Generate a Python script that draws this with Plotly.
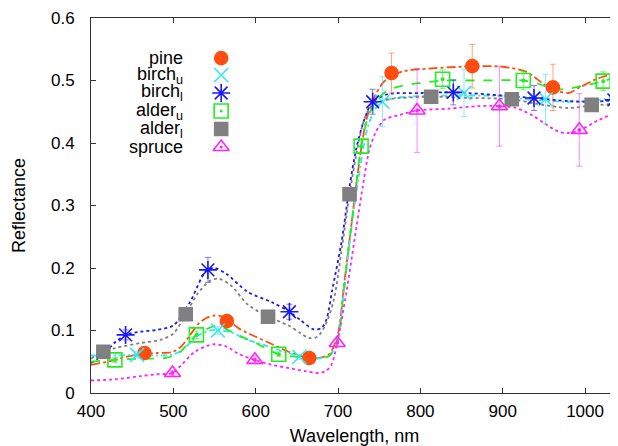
import plotly.graph_objects as go

# ---------------- data ----------------
series_names = ["pine", "birch<sub>u</sub>", "birch<sub>l</sub>",
                "alder<sub>u</sub>", "alder<sub>l</sub>", "spruce"]

# continuous spectra
pine_wl = [400, 420, 440, 460, 480, 500, 510, 520, 530, 540, 550, 560, 570, 580, 600, 620, 640, 660, 670, 680, 690,
           700, 707, 714, 720, 728, 735, 745, 755, 765, 780, 800, 850, 900, 930, 950, 965, 980, 995, 1015, 1040]
pine_r = [0.045, 0.050, 0.057, 0.062, 0.064, 0.066, 0.075, 0.092, 0.110, 0.120, 0.124, 0.122, 0.113, 0.103, 0.090,
          0.078, 0.066, 0.057, 0.055, 0.057, 0.063, 0.095, 0.170, 0.245, 0.310, 0.390, 0.440, 0.476, 0.497, 0.508,
          0.515, 0.518, 0.522, 0.522, 0.513, 0.494, 0.484, 0.480, 0.490, 0.503, 0.512]

birchu_wl = [400, 430, 456, 480, 500, 510, 520, 530, 545, 555, 570, 590, 610, 630, 650, 665, 680, 690,
             700, 707, 714, 720, 728, 735, 745, 754, 770, 800, 853, 900, 930, 952, 980, 1010, 1040]
birchu_r = [0.060, 0.060, 0.061, 0.060, 0.062, 0.068, 0.080, 0.092, 0.100, 0.101, 0.097, 0.085, 0.077, 0.068, 0.060,
            0.055, 0.056, 0.060, 0.085, 0.160, 0.240, 0.300, 0.370, 0.420, 0.455, 0.466, 0.472, 0.475, 0.476, 0.475,
            0.470, 0.468, 0.466, 0.468, 0.474]

birchl_wl = [400, 415, 430, 442, 460, 480, 500, 520, 540, 550, 565, 590, 620, 641, 655, 670, 680, 686, 693,
             704, 714, 722, 730, 737, 742, 760, 800, 840, 900, 938, 980, 1010, 1040]
birchl_r = [0.048, 0.062, 0.082, 0.093, 0.098, 0.101, 0.108, 0.145, 0.196, 0.200, 0.190, 0.162, 0.145, 0.130, 0.116,
            0.102, 0.104, 0.118, 0.165, 0.240, 0.330, 0.390, 0.430, 0.455, 0.466, 0.478, 0.480, 0.481, 0.476, 0.472,
            0.467, 0.466, 0.469]

alderu_wl = [400, 428, 460, 490, 505, 515, 528, 540, 550, 560, 575, 600, 628, 650, 670, 690,
             700, 707, 714, 720, 728, 735, 745, 760, 780, 800, 828, 870, 925, 945, 960, 975, 995, 1022, 1040]
alderu_r = [0.050, 0.053, 0.055, 0.056, 0.062, 0.075, 0.093, 0.102, 0.107, 0.105, 0.095, 0.080, 0.062, 0.058, 0.055,
            0.060, 0.090, 0.165, 0.245, 0.310, 0.395, 0.435, 0.465, 0.484, 0.492, 0.496, 0.500, 0.500, 0.500, 0.494,
            0.487, 0.486, 0.491, 0.499, 0.507]

alderl_wl = [400, 414, 430, 460, 484, 500, 515, 530, 545, 555, 570, 590, 615, 640, 655, 665, 675, 685, 695,
             705, 714, 722, 730, 738, 748, 760, 813, 860, 911, 940, 980, 1008, 1040]
alderl_r = [0.055, 0.066, 0.072, 0.080, 0.085, 0.095, 0.126, 0.160, 0.180, 0.183, 0.172, 0.142, 0.122, 0.108, 0.095,
            0.088, 0.090, 0.110, 0.150, 0.235, 0.318, 0.380, 0.430, 0.455, 0.465, 0.470, 0.474, 0.472, 0.470, 0.463,
            0.456, 0.460, 0.463]

spruce_wl = [400, 430, 460, 480, 499, 510, 525, 540, 550, 565, 580, 599, 620, 640, 660, 675, 685, 692,
             699, 710, 720, 730, 738, 745, 756, 775, 796, 835, 870, 896, 916, 935, 950, 968, 980, 993, 1017, 1040]
spruce_r = [0.020, 0.022, 0.027, 0.030, 0.032, 0.045, 0.065, 0.075, 0.078, 0.074, 0.062, 0.053, 0.045, 0.040, 0.035,
            0.032, 0.035, 0.045, 0.080, 0.160, 0.245, 0.330, 0.389, 0.415, 0.437, 0.445, 0.452, 0.455, 0.459, 0.459,
            0.456, 0.445, 0.432, 0.418, 0.416, 0.420, 0.437, 0.450]

# sampled points with error bars
pine_mwl = [465, 565, 665, 765, 863, 961]
pine_m = [0.064, 0.115, 0.056, 0.512, 0.523, 0.489]
pine_e = [0.005, 0.008, 0.005, 0.032, 0.035, 0.037]

birchu_mwl = [456, 554, 653, 754, 853, 952]
birchu_m = [0.061, 0.100, 0.058, 0.466, 0.480, 0.470]
birchu_e = [0.005, 0.006, 0.004, 0.040, 0.038, 0.040]

birchl_mwl = [442, 542, 641, 742, 840, 938, 1035]
birchl_m = [0.093, 0.197, 0.130, 0.466, 0.481, 0.472, 0.469]
birchl_e = [0.008, 0.020, 0.012, 0.020, 0.020, 0.020, 0.020]

alderu_mwl = [429, 528, 628, 728, 827, 925, 1022]
alderu_m = [0.053, 0.093, 0.062, 0.395, 0.502, 0.500, 0.499]
alderu_e = [0.004, 0.006, 0.004, 0.010, 0.015, 0.015, 0.015]

alderl_mwl = [415, 515, 615, 714, 813, 911, 1008]
alderl_m = [0.066, 0.126, 0.122, 0.318, 0.474, 0.470, 0.461]
alderl_e = [0.003, 0.005, 0.004, 0.005, 0.008, 0.008, 0.008]

spruce_mwl = [499, 599, 699, 796, 896, 993]
spruce_m = [0.032, 0.053, 0.080, 0.452, 0.459, 0.421]
spruce_e = [0.004, 0.006, 0.005, 0.067, 0.064, 0.058]

x_ticks = [400, 500, 600, 700, 800, 900, 1000]
y_ticks = [0, 0.1, 0.2, 0.3, 0.4, 0.5, 0.6]

# ---------------- styling ----------------
colors = ["#ff4d10", "#33e6f0", "#1a1aee", "#22ee22", "#808080", "#ff22ff"]
err_colors = ["rgba(255,90,30,0.55)", "rgba(40,220,240,0.55)", "rgba(30,30,235,0.55)",
              "rgba(30,230,30,0.55)", "rgba(128,128,128,0.55)", "rgba(255,40,255,0.55)"]
dashes = ["dashdot", "6px,3px,2px,3px", "dot", "dash", "dot", "dot"]
symbols = ["circle", "x-thin-open", "asterisk-open", "square-open", "square", "triangle-up-open"]
sizes = [13, 14, 15, 14, 13, 14]

curves = [(pine_wl, pine_r), (birchu_wl, birchu_r), (birchl_wl, birchl_r),
          (alderu_wl, alderu_r), (alderl_wl, alderl_r), (spruce_wl, spruce_r)]
marks = [(pine_mwl, pine_m, pine_e), (birchu_mwl, birchu_m, birchu_e), (birchl_mwl, birchl_m, birchl_e),
         (alderu_mwl, alderu_m, alderu_e), (alderl_mwl, alderl_m, alderl_e), (spruce_mwl, spruce_m, spruce_e)]

fig = go.Figure()

for i in range(6):
    wl, r = curves[i]
    fig.add_trace(go.Scatter(x=wl, y=r, mode="lines",
                             line=dict(color=colors[i], width=1.8, dash=dashes[i], shape="spline", smoothing=0.8),
                             showlegend=False, hoverinfo="skip"))

for i in range(6):
    mwl, m, e = marks[i]
    fig.add_trace(go.Scatter(x=mwl, y=m, mode="markers",
                             marker=dict(symbol=symbols[i], size=sizes[i], color=colors[i],
                                         line=dict(color=colors[i], width=1.6)),
                             error_y=dict(type="data", array=e, visible=True, color=err_colors[i],
                                          thickness=1, width=3),
                             showlegend=False))
    if symbols[i] in ("square-open", "triangle-up-open"):
        fig.add_trace(go.Scatter(x=mwl, y=m, mode="markers",
                                 marker=dict(symbol="circle", size=4, color=colors[i]),
                                 showlegend=False, hoverinfo="skip"))

# key (symbols on an overlaid helper axis, labels as annotations)
legend_rows = [0.893, 0.848, 0.800, 0.752, 0.704, 0.656]
legend_sym_x = 0.247
legend_lab_x = 0.178
for i in range(6):
    fig.add_trace(go.Scatter(x=[legend_sym_x], y=[legend_rows[i]], mode="markers", xaxis="x2", yaxis="y2",
                             marker=dict(symbol=symbols[i], size=sizes[i], color=colors[i],
                                         line=dict(color=colors[i], width=1.6)),
                             showlegend=False, hoverinfo="skip"))
    if symbols[i] in ("square-open", "triangle-up-open"):
        fig.add_trace(go.Scatter(x=[legend_sym_x], y=[legend_rows[i]], mode="markers", xaxis="x2", yaxis="y2",
                                 marker=dict(symbol="circle", size=3, color=colors[i]),
                                 showlegend=False, hoverinfo="skip"))
    fig.add_annotation(x=legend_lab_x, y=legend_rows[i], xref="paper", yref="paper",
                       text=series_names[i], showarrow=False, xanchor="right", yanchor="middle",
                       font=dict(size=18, color="black"))

axis_font = dict(family="Liberation Sans, Arial, sans-serif", size=17, color="black")

fig.update_layout(
    width=610, height=438,
    margin=dict(l=83, r=0, t=10, b=53, autoexpand=False),
    paper_bgcolor="white", plot_bgcolor="white",
    font=axis_font,
    xaxis=dict(range=[400, 1040], tickvals=x_ticks, ticks="inside", ticklen=5, tickcolor="#333",
               showline=True, linecolor="#333", linewidth=1, mirror="ticks", showgrid=False, zeroline=False,
               ticklabelstandoff=3,
               title=dict(text="Wavelength, nm", font=dict(size=18), standoff=8), tickfont=axis_font),
    yaxis=dict(range=[0, 0.6], tickvals=y_ticks, ticktext=["0", "0.1", "0.2", "0.3", "0.4", "0.5", "0.6"],
               ticks="inside", ticklen=5, tickcolor="#333", ticklabelstandoff=12,
               showline=True, linecolor="#333", linewidth=1, showgrid=False, zeroline=False,
               title=dict(text="Reflectance", font=dict(size=18), standoff=20), tickfont=axis_font),
    xaxis2=dict(range=[0, 1], overlaying="x", visible=False, fixedrange=True),
    yaxis2=dict(range=[0, 1], overlaying="y", visible=False, fixedrange=True),
)

fig.write_html("out.html")
